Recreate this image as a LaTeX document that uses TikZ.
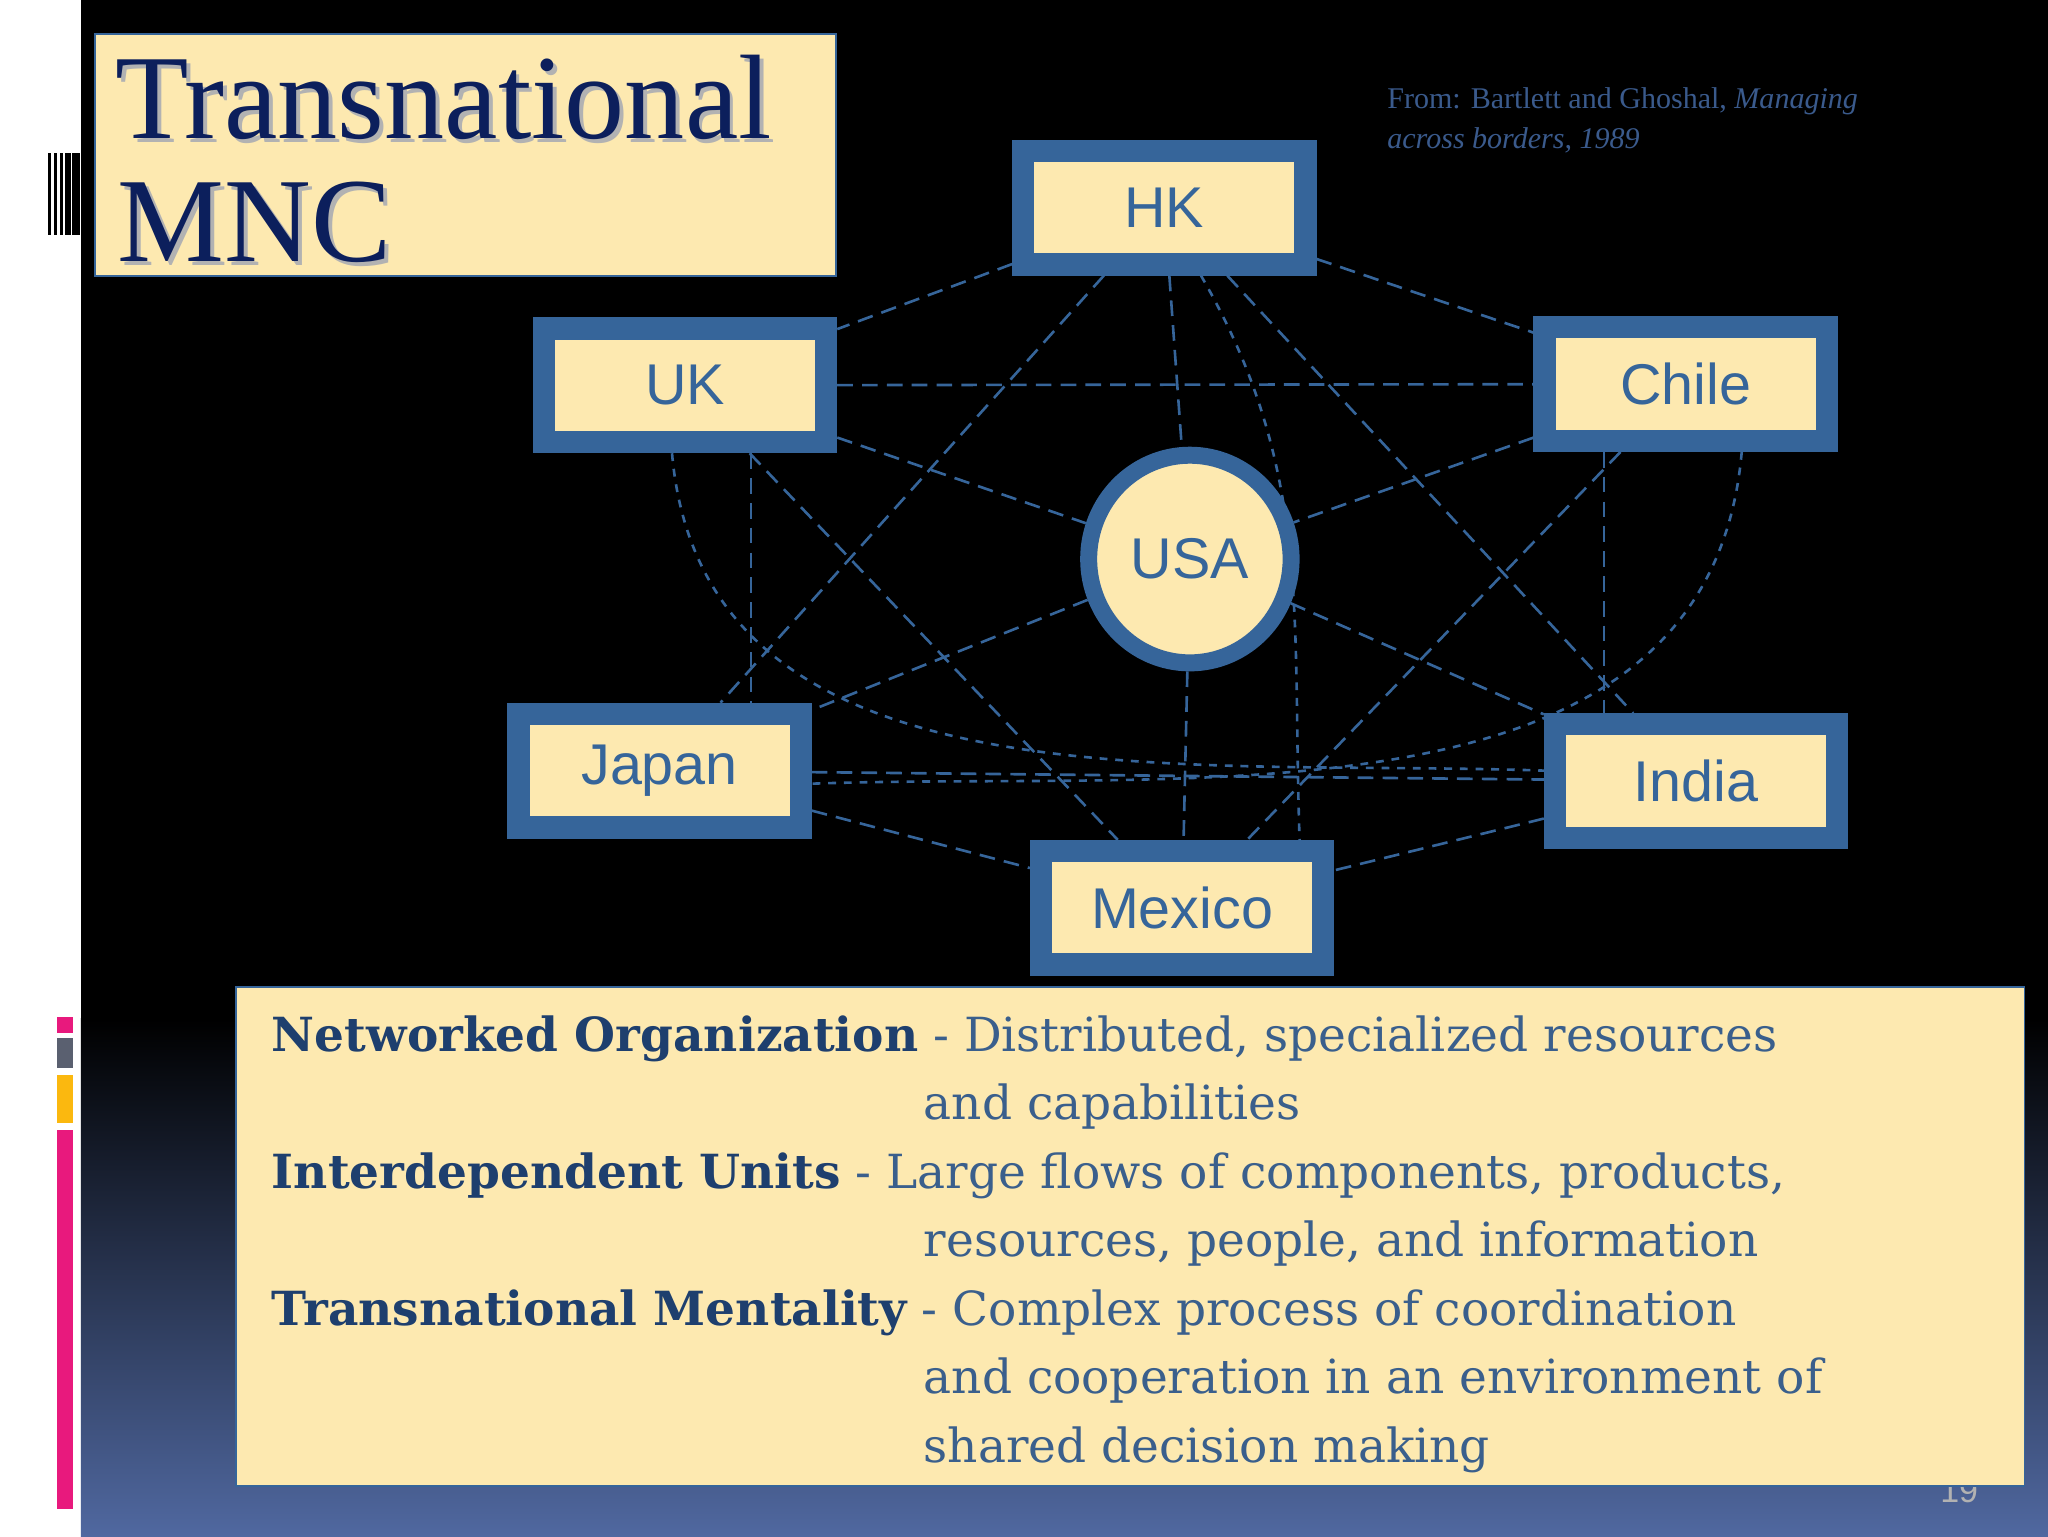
\documentclass[tikz,border=0pt]{standalone}
\usepackage{fontspec}
\setmainfont{Liberation Serif}
\newfontfamily\lsans{Liberation Sans}
\newfontfamily\dserif{DejaVu Serif}
\usetikzlibrary{shapes.geometric}
\definecolor{cream}{HTML}{FDE9B0}
\definecolor{nblue}{HTML}{36659A}
\definecolor{navy}{HTML}{0C1F5C}
\definecolor{termc}{HTML}{1E3F6E}
\definecolor{bodyc}{HTML}{3A5F8C}
\definecolor{citec}{HTML}{3A5A8C}
\definecolor{grad}{HTML}{5068A0}
\definecolor{pinkc}{HTML}{E8197D}
\definecolor{grayc}{HTML}{5A6070}
\definecolor{yelc}{HTML}{FBB80F}
\pgfdeclarelayer{bg}\pgfdeclarelayer{edges}
\pgfsetlayers{bg,edges,main}
\tikzset{
 cbox/.style={draw=nblue,line width=17pt,fill=cream,inner sep=0,minimum width=216pt,minimum height=87pt,font=\lsans\fontsize{44}{44}\selectfont,text=nblue},
 link/.style={draw=nblue,line width=2pt,dash pattern=on 12pt off 7pt},
 dlink/.style={draw=nblue,line width=2pt,dash pattern=on 6pt off 6pt},
 term/.style={anchor=base west,inner sep=0,font=\dserif\fontsize{36}{36}\selectfont,text=bodyc},
}
\begin{document}
\begin{tikzpicture}[x=1pt,y=-1pt]
\useasboundingbox (0,0) rectangle (1568,1176);
\begin{pgfonlayer}{bg}
\fill[white] (0,0) rectangle (62,1176);
\fill[black] (62,0) rectangle (1568,782);
\shade[top color=black,bottom color=grad] (62,780) rectangle (1568,1176);
\foreach \x/\w in {37/2,41/3,46/2,50/4,55/6}{\fill[black] (\x,117) rectangle (\x+\w,180);}
\fill[pinkc] (44,779) rectangle (56,791);
\fill[grayc] (44,795) rectangle (56,818);
\fill[yelc] (44,823) rectangle (56,860);
\fill[pinkc] (44,865) rectangle (56,1155);
\node[anchor=base east,text=gray!60,font=\lsans\fontsize{26}{26}\selectfont] (pg) at (1518,1150) {19};
\end{pgfonlayer}
% title
\node[draw=nblue,line width=1.5pt,fill=cream,minimum width=567pt,minimum height=185pt,inner sep=0] (title) at (356.5,118.5) {};
\node[anchor=base west,inner sep=0,text=gray!60,font=\fontsize{92}{92}\selectfont] at (91,109) {Transnational};
\node[anchor=base west,inner sep=0,text=navy,font=\fontsize{92}{92}\selectfont] (t1) at (88,106) {Transnational};
\node[anchor=base west,inner sep=0,text=gray!60,font=\fontsize{92}{92}\selectfont] at (93,203) {MNC};
\node[anchor=base west,inner sep=0,text=navy,font=\fontsize{92}{92}\selectfont] (t2) at (90,200) {MNC};
% citation
\node[anchor=base west,inner sep=0,text=citec,font=\fontsize{23}{23}\selectfont] (c1) at (1062,83) {From: Bartlett and Ghoshal, \textit{Managing}};
\node[anchor=base west,inner sep=0,text=citec,font=\fontsize{23}{23}\selectfont\itshape] (c2) at (1062,114) {across borders, 1989};
% nodes
\node[cbox] (HK) at (891.5,159) {HK};
\node[cbox] (UK) at (524.5,295) {UK};
\node[cbox] (Chile) at (1290.5,294) {Chile};
\node[cbox] (Japan) at (505,590) {Japan};
\node[cbox] (India) at (1298.5,598) {India};
\node[cbox] (Mexico) at (905,695) {Mexico};
\node[ellipse,draw=nblue,line width=13pt,fill=cream,inner sep=0,minimum width=155pt,minimum height=159pt,font=\lsans\fontsize{44}{44}\selectfont,text=nblue] (USA) at (911,428) {USA};
\begin{pgfonlayer}{edges}
\draw[link] (HK) -- (UK);
\draw[link] (HK) -- (Chile);
\draw[link] (HK) -- (USA);
\draw[link] (HK) -- (Japan);
\draw[link] (HK) -- (India);
\draw[link] (UK) -- (Chile);
\draw[link] (UK) -- (USA);
\draw[link] (UK.south -| 575,0) -- (Japan.north -| 575,0);
\draw[link] (UK) -- (Mexico);
\draw[link] (Chile) -- (USA);
\draw[link] (Chile) -- (Mexico);
\draw[link] (Chile.south -| 1228,0) -- (India.north -| 1228,0);
\draw[link] (USA) -- (Japan);
\draw[link] (USA) -- (India);
\draw[link] (USA) -- (Mexico);
\draw[link] (Japan) -- (India);
\draw[link] (Japan) -- (Mexico);
\draw[link] (India) -- (Mexico);
\draw[dlink] ([xshift=28pt]HK.south) to[out=-60,in=92] ([xshift=90pt]Mexico.north);
\draw[dlink] ([xshift=-10pt]UK.south) to[out=-85,in=178] ([yshift=8pt]India.west);
\draw[dlink] ([xshift=43pt]Chile.south) to[out=-95,in=2] ([yshift=-10pt]Japan.east);
\end{pgfonlayer}
% bottom box
\node[draw=nblue,line width=1.5pt,fill=cream,minimum width=1369pt,minimum height=382pt,inner sep=0] (tbox) at (865.5,947) {};
\node[term] (l1) at (208,805) {\textbf{\color{termc}Networked Organization} - Distributed, specialized resources};
\node[term] (l2) at (707,857) {and capabilities};
\node[term] (l3) at (208,910) {\textbf{\color{termc}Interdependent Units} - Large flows of components, products,};
\node[term] (l4) at (707,962) {resources, people, and information};
\node[term] (l5) at (208,1015) {\textbf{\color{termc}Transnational Mentality} - Complex process of coordination};
\node[term] (l6) at (707,1067) {and cooperation in an environment of};
\node[term] (l7) at (707,1120) {shared decision making};
\end{tikzpicture}
\end{document}
